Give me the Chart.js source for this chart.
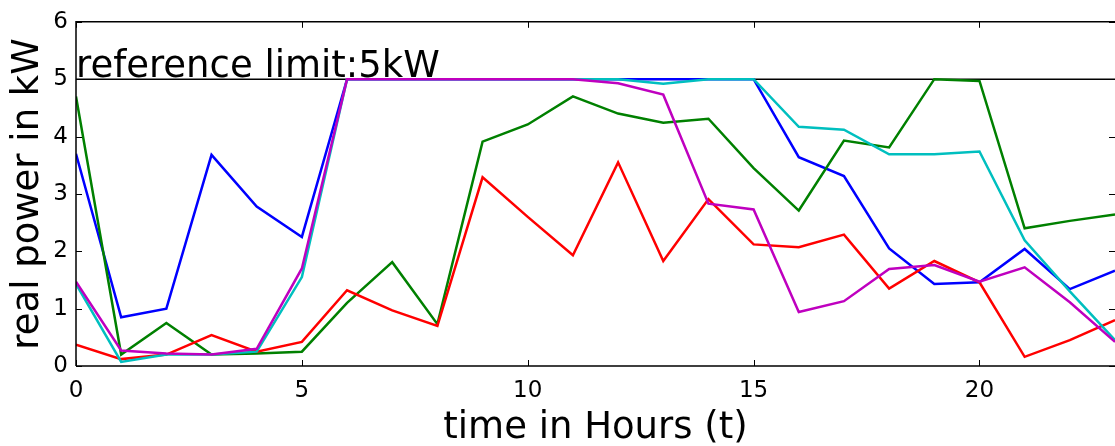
<!DOCTYPE html>
<html>
<head>
<meta charset="utf-8">
<script src="https://cdn.jsdelivr.net/npm/chart.js@4"></script>
<style>
  body { margin: 0; background: #fff; }
  #wrap { width: 1115px; height: 446px; position: relative; }
</style>
</head>
<body>
<div id="wrap"><canvas id="powerChart"></canvas></div>
<script>
// hours of the day (x axis)
const hours = [0, 1, 2, 3, 4, 5, 6, 7, 8, 9, 10, 11, 12, 13, 14, 15, 16, 17, 18, 19, 20, 21, 22, 23];

// real power per house (kW)
const seriesBlue    = [3.70, 0.85, 1.00, 3.68, 2.78, 2.25, 5.00, 5.00, 5.00, 5.00, 5.00, 5.00, 5.00, 5.00, 5.00, 5.00, 3.64, 3.31, 2.05, 1.43, 1.46, 2.04, 1.34, 1.66];
const seriesGreen   = [4.70, 0.20, 0.75, 0.20, 0.22, 0.25, 1.10, 1.81, 0.73, 3.91, 4.21, 4.70, 4.40, 4.24, 4.31, 3.45, 2.71, 3.93, 3.81, 5.00, 4.97, 2.40, 2.53, 2.64];
const seriesRed     = [0.37, 0.12, 0.20, 0.54, 0.25, 0.42, 1.32, 0.97, 0.70, 3.29, 2.60, 1.93, 3.55, 1.83, 2.91, 2.12, 2.07, 2.29, 1.35, 1.83, 1.46, 0.16, 0.45, 0.80];
const seriesCyan    = [1.43, 0.07, 0.20, 0.20, 0.25, 1.55, 5.00, 5.00, 5.00, 5.00, 5.00, 5.00, 5.00, 4.92, 5.00, 5.00, 4.17, 4.12, 3.69, 3.69, 3.74, 2.19, 1.30, 0.45];
const seriesMagenta = [1.47, 0.27, 0.22, 0.20, 0.30, 1.70, 5.00, 5.00, 5.00, 5.00, 5.00, 5.00, 4.93, 4.73, 2.83, 2.73, 0.94, 1.13, 1.69, 1.76, 1.47, 1.72, 1.11, 0.42];

// reference limit
const limitValue = 5;
const limitX = [0, 23];
const limitText = 'reference limit:5kW';

// axis ticks
const xTicks = [0, 5, 10, 15, 20];
const yTicks = [0, 1, 2, 3, 4, 5, 6];

const FONT = "'DejaVu Sans', sans-serif";

function toPoints(values) {
    return hours.map((h, i) => ({ x: h, y: values[i] }));
}

function lineSet(values, color, order) {
    return {
        data: toPoints(values),
        borderColor: color,
        borderWidth: 2.5,
        pointRadius: 0,
        tension: 0,
        fill: false,
        order: order
    };
}

// 边框和向内的刻度线 (matplotlib 风格)
const framePlugin = {
    id: 'frame',
    afterDraw(chart) {
        const ctx = chart.ctx;
        const a = chart.chartArea;
        const xs = chart.scales.x;
        const ys = chart.scales.y;
        ctx.save();
        ctx.strokeStyle = '#000';
        ctx.lineWidth = 1.5;
        // spines: left, bottom, top (right one is cut off in the picture)
        ctx.beginPath();
        ctx.moveTo(a.left, a.bottom);
        ctx.lineTo(a.left, a.top);
        ctx.lineTo(a.right + 2, a.top);
        ctx.moveTo(a.left, a.bottom);
        ctx.lineTo(a.right + 2, a.bottom);
        ctx.stroke();
        // ticks
        ctx.lineWidth = 1;
        const len = 6;
        ctx.beginPath();
        xTicks.forEach(v => {
            const px = Math.round(xs.getPixelForValue(v)) + 0.5;
            ctx.moveTo(px, a.bottom);
            ctx.lineTo(px, a.bottom - len);
            ctx.moveTo(px, a.top);
            ctx.lineTo(px, a.top + len);
        });
        yTicks.forEach(v => {
            const py = Math.round(ys.getPixelForValue(v)) + 0.5;
            ctx.moveTo(a.left, py);
            ctx.lineTo(a.left + len, py);
            ctx.moveTo(a.right, py);
            ctx.lineTo(a.right - len, py);
        });
        ctx.stroke();
        // reference limit text
        ctx.fillStyle = '#000';
        ctx.font = '37px ' + FONT;
        ctx.textAlign = 'left';
        ctx.textBaseline = 'alphabetic';
        ctx.fillText(limitText, a.left, ys.getPixelForValue(limitValue) - 2);
        ctx.restore();
    }
};

new Chart(document.getElementById('powerChart'), {
    type: 'line',
    data: {
        datasets: [
            {
                data: limitX.map(x => ({ x: x, y: limitValue })),
                borderColor: '#000',
                borderWidth: 1.5,
                pointRadius: 0,
                fill: false,
                order: 6
            },
            lineSet(seriesBlue, '#0000ff', 5),
            lineSet(seriesGreen, '#008000', 4),
            lineSet(seriesRed, '#ff0000', 3),
            lineSet(seriesCyan, '#00bfbf', 2),
            lineSet(seriesMagenta, '#bf00bf', 1)
        ]
    },
    options: {
        responsive: true,
        maintainAspectRatio: false,
        animation: false,
        layout: {
            padding: { top: 21, right: 0, bottom: 0, left: 0 }
        },
        plugins: {
            legend: { display: false },
            tooltip: { enabled: false }
        },
        scales: {
            x: {
                type: 'linear',
                min: 0,
                max: 23,
                grid: { display: false, drawTicks: false },
                border: { display: false },
                ticks: {
                    stepSize: 5,
                    includeBounds: false,
                    color: '#000',
                    padding: 11,
                    font: { family: FONT, size: 23 },
                    maxRotation: 0
                },
                title: {
                    display: true,
                    text: 'time in Hours (t)',
                    color: '#000',
                    font: { family: FONT, size: 37 },
                    padding: { top: 0, bottom: -5 }
                },
                afterFit(scale) { scale.height = 80; }
            },
            y: {
                min: 0,
                max: 6,
                grid: { display: false, drawTicks: false },
                border: { display: false },
                ticks: {
                    stepSize: 1,
                    color: '#000',
                    padding: 8,
                    font: { family: FONT, size: 23 }
                },
                title: {
                    display: true,
                    text: 'real power in kW',
                    color: '#000',
                    font: { family: FONT, size: 37 },
                    padding: { top: 6, bottom: 0 }
                },
                afterFit(scale) { scale.width = 76; }
            }
        }
    },
    plugins: [framePlugin]
});
</script>
</body>
</html>
